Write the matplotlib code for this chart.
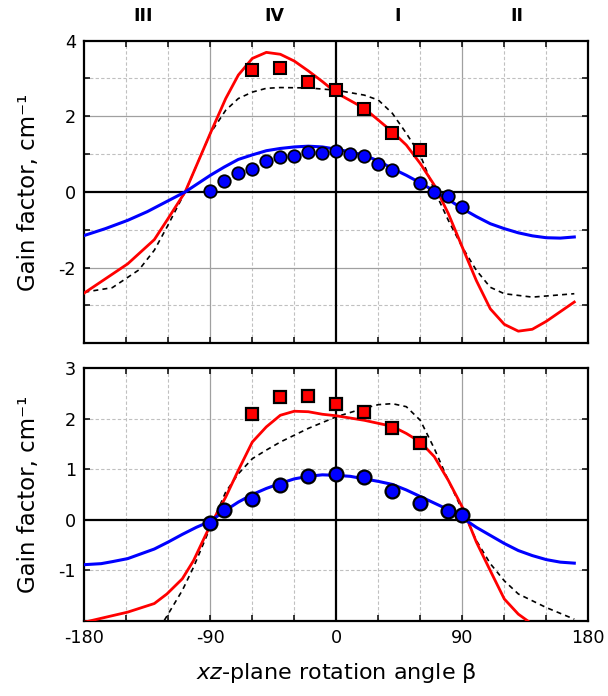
import matplotlib
matplotlib.use("Agg")
import matplotlib.pyplot as plt

plt.rcParams['font.family'] = ['DejaVu Sans']
plt.rcParams['mathtext.fontset'] = 'dejavusans'
plt.rcParams['axes.unicode_minus'] = False

# ---------------- upper panel ----------------
top_sq_x = [-60, -40, -20, 0, 20, 40, 60]
top_sq_y = [3.22, 3.28, 2.91, 2.69, 2.19, 1.56, 1.11]

top_ci_x = [-90, -80, -70, -60, -50, -40, -30, -20, -10, 0, 10, 20, 30, 40, 60, 70, 80, 90]
top_ci_y = [0.03, 0.29, 0.49, 0.62, 0.83, 0.92, 0.95, 1.06, 1.04, 1.09, 1.00, 0.95,
            0.74, 0.57, 0.24, 0.00, -0.11, -0.40]

top_red_x = [-180, -149, -130, -121, -108, -90, -79, -70, -60, -50, -40, -30, -20, -10,
             0, 20, 30, 40, 50, 60, 70, 80, 90, 100, 110, 120, 130, 140, 150, 170]
top_red_y = [-2.67, -1.90, -1.26, -0.75, 0.0, 1.55, 2.47, 3.09, 3.53, 3.69, 3.64, 3.46,
             3.20, 2.92, 2.62, 2.21, 1.90, 1.59, 1.24, 0.75, 0.18, -0.57, -1.46, -2.34,
             -3.09, -3.50, -3.68, -3.63, -3.42, -2.91]

top_blue_x = [-180, -165, -149, -135, -121, -108, -90, -80, -70, -60, -50, -40, -30, -20,
              -10, 0, 10, 20, 30, 40, 50, 60, 73, 80, 90, 100, 110, 120, 130, 140, 150,
              160, 170]
top_blue_y = [-1.15, -0.97, -0.75, -0.52, -0.25, 0.0, 0.44, 0.66, 0.86, 0.98, 1.09, 1.15,
              1.19, 1.21, 1.19, 1.13, 1.06, 0.97, 0.82, 0.62, 0.44, 0.24, -0.04, -0.20,
              -0.44, -0.65, -0.84, -0.97, -1.08, -1.16, -1.21, -1.22, -1.19]

top_dash_x = [-180, -160, -141, -130, -121, -108, -90, -79, -70, -60, -50, -40, -20, 0,
              20, 30, 40, 50, 60, 70, 80, 90, 100, 110, 120, 140, 170]
top_dash_y = [-2.65, -2.53, -2.06, -1.54, -0.93, 0.0, 1.55, 2.16, 2.47, 2.64, 2.74, 2.76,
              2.75, 2.69, 2.56, 2.43, 2.08, 1.55, 0.97, 0.05, -0.75, -1.46, -2.07, -2.52,
              -2.69, -2.78, -2.69]

# ---------------- lower panel ----------------
bot_sq_x = [-60, -40, -20, 0, 20, 40, 60]
bot_sq_y = [2.09, 2.44, 2.46, 2.30, 2.14, 1.82, 1.52]

bot_ci_x = [-90, -80, -60, -40, -20, 0, 20, 40, 60, 80, 90]
bot_ci_y = [-0.07, 0.20, 0.42, 0.68, 0.87, 0.90, 0.85, 0.57, 0.34, 0.17, 0.09]

bot_red_x = [-180, -149, -130, -121, -110, -102, -94, -90, -79, -70, -60, -50, -40, -30,
             -20, -10, 0, 20, 40, 50, 60, 70, 80, 90, 100, 110, 120, 130, 140, 150, 170]
bot_red_y = [-2.03, -1.83, -1.66, -1.47, -1.17, -0.81, -0.34, -0.11, 0.45, 0.98, 1.54,
             1.84, 2.07, 2.15, 2.14, 2.09, 2.06, 1.97, 1.85, 1.71, 1.54, 1.25, 0.78, 0.25,
             -0.44, -1.01, -1.57, -1.87, -2.07, -2.30, -2.60]

bot_blue_x = [-180, -168, -160, -149, -140, -130, -120, -110, -100, -90, -80, -70, -60,
              -50, -40, -30, -20, -10, 0, 10, 20, 30, 40, 50, 60, 70, 80, 92, 100, 110,
              120, 130, 140, 150, 160, 170]
bot_blue_y = [-0.89, -0.87, -0.83, -0.77, -0.68, -0.58, -0.44, -0.29, -0.15, -0.03, 0.17,
              0.35, 0.50, 0.62, 0.72, 0.81, 0.86, 0.89, 0.88, 0.86, 0.81, 0.76, 0.70,
              0.59, 0.46, 0.33, 0.20, 0.0, -0.15, -0.31, -0.47, -0.61, -0.71, -0.79,
              -0.84, -0.86]

bot_dash_x = [-130, -123, -110, -102, -90, -79, -70, -60, -50, -40, -20, 0, 20, 30, 40,
              50, 60, 70, 80, 90, 100, 110, 120, 130, 150, 170]
bot_dash_y = [-2.50, -2.00, -1.40, -0.94, -0.15, 0.55, 0.91, 1.21, 1.38, 1.54, 1.81, 2.04,
              2.21, 2.28, 2.30, 2.24, 1.97, 1.41, 0.78, 0.19, -0.41, -0.87, -1.21, -1.47,
              -1.74, -1.97]

x_ticks = [-180, -90, 0, 90, 180]
x_minor = [-150, -120, -60, -30, 30, 60, 120, 150]
quadrants = ['III', 'IV', 'I', 'II']
quadrant_x = [-138, -44, 44, 129]

RED = '#ff0000'
BLUE = '#0000ff'
GRID_SOLID = '#a0a0a0'
GRID_DASH = '#c0c0c0'

fig = plt.figure(figsize=(6.08, 6.96), dpi=100)
ax1 = fig.add_axes([0.1387, 0.5068, 0.8289, 0.4348])
ax2 = fig.add_axes([0.1387, 0.1082, 0.8289, 0.3626])


def style_axes(ax, ylim, major_y, minor_y):
    ax.set_xlim(-180, 180)
    ax.set_ylim(*ylim)
    ax.set_xticks(x_ticks)
    ax.set_xticks(x_minor, minor=True)
    ax.set_yticks(major_y)
    ax.set_yticks(minor_y, minor=True)
    for s in ax.spines.values():
        s.set_linewidth(1.6)
    ax.tick_params(which='both', direction='in', top=True, right=True,
                   width=1.1, labelsize=12.7)
    ax.tick_params(which='major', length=4, pad=6)
    ax.tick_params(which='minor', length=4)
    for v in [-90, 90]:
        ax.axvline(v, color=GRID_SOLID, lw=0.9, zorder=0)
    for v in x_minor:
        ax.axvline(v, color=GRID_DASH, lw=0.8, ls=(0, (3, 2)), zorder=0)
    ax.axvline(0, color='black', lw=1.6, zorder=1)
    ax.axhline(0, color='black', lw=1.6, zorder=1)


# upper panel
style_axes(ax1, (-4, 4), [-2, 0, 2, 4], [-3, -1, 1, 3])
for v in [-2, 2]:
    ax1.axhline(v, color=GRID_SOLID, lw=0.9, zorder=0)
for v in [-3, -1, 1, 3]:
    ax1.axhline(v, color=GRID_DASH, lw=0.8, ls=(0, (3, 2)), zorder=0)
ax1.plot(top_dash_x, top_dash_y, color='black', lw=1.2, ls=(0, (3, 2.5)), zorder=3)
ax1.plot(top_red_x, top_red_y, color=RED, lw=2.0, zorder=4)
ax1.plot(top_blue_x, top_blue_y, color=BLUE, lw=2.2, zorder=4)
ax1.plot(top_sq_x, top_sq_y, ls='none', marker='s', ms=8, mfc=RED, mec='black',
         mew=1.5, zorder=5)
ax1.plot(top_ci_x, top_ci_y, ls='none', marker='o', ms=9, mfc=BLUE, mec='black',
         mew=1.3, zorder=5)
ax1.set_xticklabels([])
ax1.set_ylabel('Gain factor, cm\u207b\u00b9', fontsize=16.5, labelpad=13)
for q, qx in zip(quadrants, quadrant_x):
    ax1.text(qx, 1.08, q, transform=ax1.get_xaxis_transform(), ha='center',
             va='center', fontsize=12.5, fontweight='bold')

# lower panel
style_axes(ax2, (-2, 3), [-1, 0, 1, 2, 3], [])
for v in [-1, 1, 2]:
    ax2.axhline(v, color=GRID_DASH, lw=0.8, ls=(0, (3, 2)), zorder=0)
ax2.plot(bot_dash_x, bot_dash_y, color='black', lw=1.2, ls=(0, (3, 2.5)), zorder=3)
ax2.plot(bot_red_x, bot_red_y, color=RED, lw=2.0, zorder=4)
ax2.plot(bot_blue_x, bot_blue_y, color=BLUE, lw=2.2, zorder=4)
ax2.plot(bot_sq_x, bot_sq_y, ls='none', marker='s', ms=8.5, mfc=RED, mec='black',
         mew=1.6, zorder=5)
ax2.plot(bot_ci_x, bot_ci_y, ls='none', marker='o', ms=10, mfc=BLUE, mec='black',
         mew=1.6, zorder=5)
ax2.set_xticklabels([str(t) for t in x_ticks])
ax2.set_ylabel('Gain factor, cm\u207b\u00b9', fontsize=16.5, labelpad=13)
ax2.set_xlabel('$xz$-plane rotation angle β', fontsize=16, labelpad=10)

fig.savefig('out.png', dpi=100)
